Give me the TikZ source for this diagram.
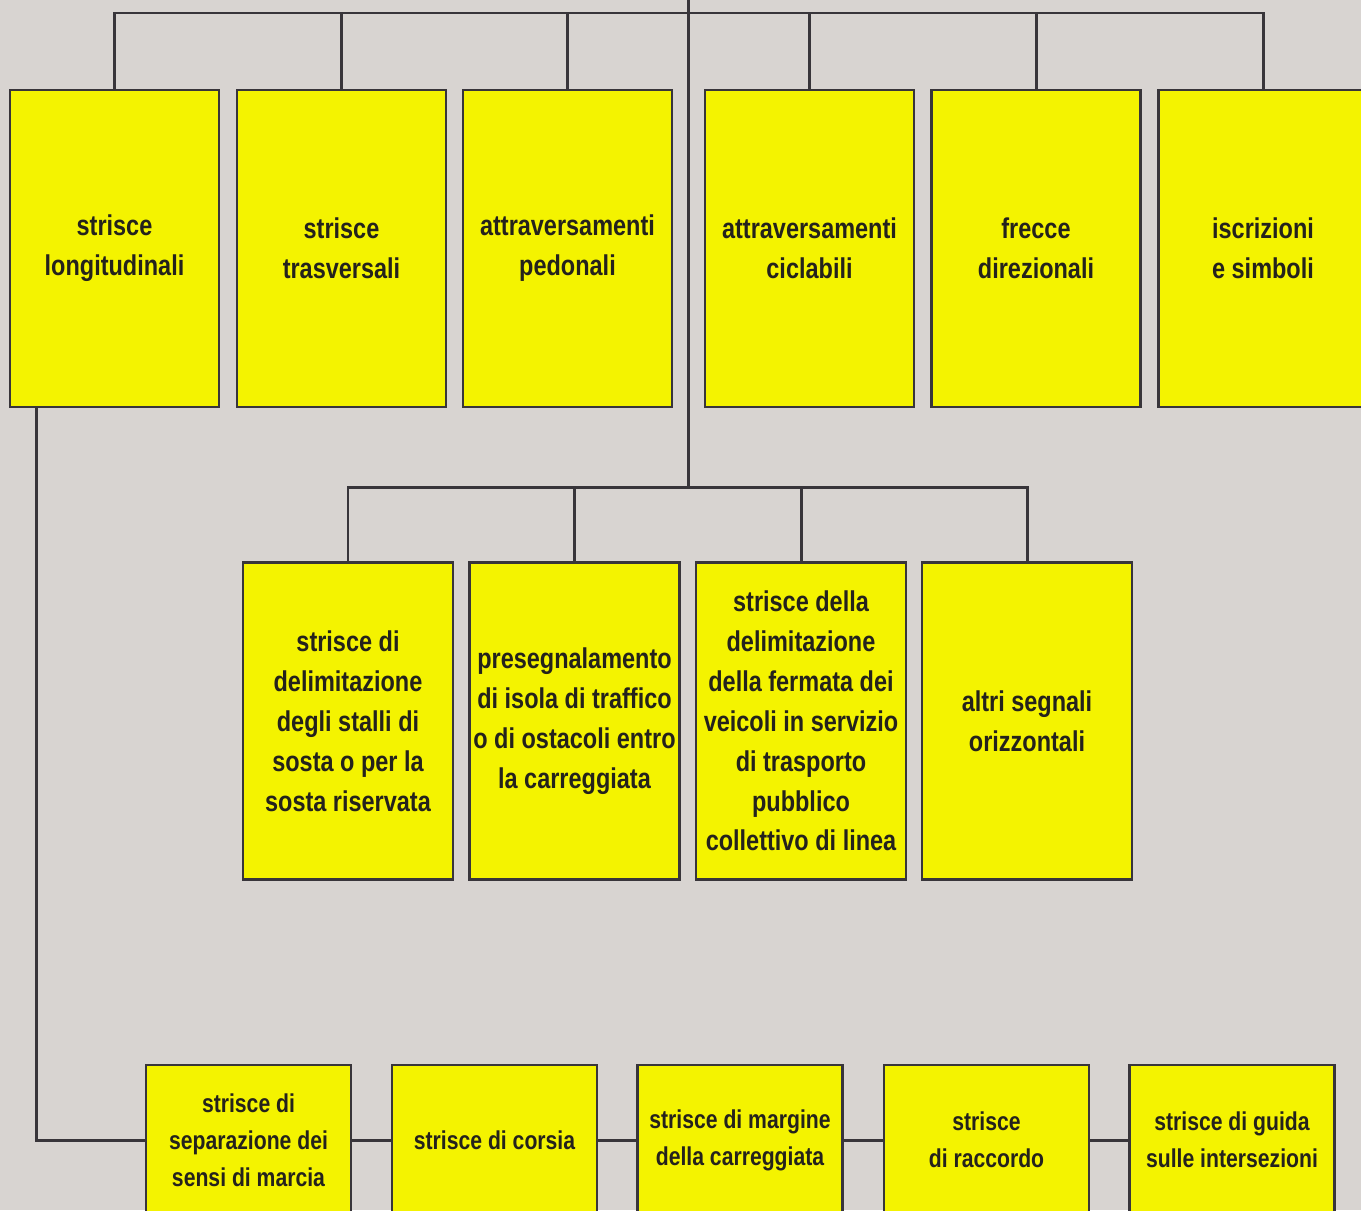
\documentclass[tikz,border=0pt]{standalone}
\usepackage{fontspec}
\newfontfamily\boxfont[FakeStretch=0.82]{Liberation Sans}
\definecolor{paper}{HTML}{D8D4D1}
\definecolor{signyellow}{HTML}{F4F300}
\definecolor{ink}{HTML}{38353A}
\definecolor{lettering}{HTML}{24221C}
\begin{document}
\begin{tikzpicture}[x=0.02cm,y=-0.02cm,
	box/.style={draw=ink,fill=signyellow,line width=1.5pt,inner sep=0pt,
		minimum width=4.18cm,minimum height=6.34cm,align=center,text=lettering,
		font=\boxfont\bfseries\fontsize{16.3}{22.7}\selectfont},
	wire/.style={draw=ink,line width=1.7pt}]
	\fill [paper] (0,0) rectangle (1361,1210);
	\useasboundingbox (0,0) rectangle (1361,1210);
	
	% first level
	\foreach [count=\n] \x/\t in {114.5/{strisce\\longitudinali},341.5/{strisce\\trasversali},
		567.5/{attraversamenti\\pedonali},809.5/{attraversamenti\\ciclabili},
		1036/{frecce\\direzionali},1263/{iscrizioni\\e simboli}}{
		\node [box] at (\x,248.5) (top \n) {\t};
	}
	
	% second level
	\foreach [count=\n] \x/\t in {348/{strisce di\\delimitazione\\degli stalli di\\sosta o per la\\sosta riservata},
		574.5/{presegnalamento\\di isola di traffico\\o di ostacoli entro\\la carreggiata},
		801/{strisce della\\delimitazione\\della fermata dei\\veicoli in servizio\\di trasporto\\pubblico\\collettivo di linea},
		1027/{altri segnali\\orizzontali}}{
		\node [box,minimum width=4.2cm] at (\x,721) (mid \n) {\t};
	}
	
	% longitudinal stripes
	\foreach [count=\n] \x/\t in {248.5/{strisce di\\separazione dei\\sensi di marcia},494.5/{strisce di corsia},
		740/{strisce di margine\\della carreggiata},986.5/{strisce\\di raccordo},
		1232/{strisce di guida\\sulle intersezioni}}{
		\node [box,minimum width=4.1cm,minimum height=3cm,
			font=\boxfont\bfseries\fontsize{14.7}{21}\selectfont] at (\x,1140) (bot \n) {\t};
	}
	
	\coordinate (root) at (688,0);
	\coordinate (top bus) at (688,13);
	\coordinate (mid bus) at (688,487);
	
	\foreach \n in {1,...,6}
		\draw [wire] (top \n) |- (top bus);
	\draw [wire] (root) to (mid bus);
	\foreach \n in {1,...,4}
		\draw [wire] (mid \n) |- (mid bus);
	
	\draw [wire] ([xshift=0.56cm]top 1.south west) |- (bot 1);
	\foreach \n [count=\m from 2] in {1,...,4}
		\draw [wire] (bot \n) to (bot \m);
	
\end{tikzpicture}
\end{document}
